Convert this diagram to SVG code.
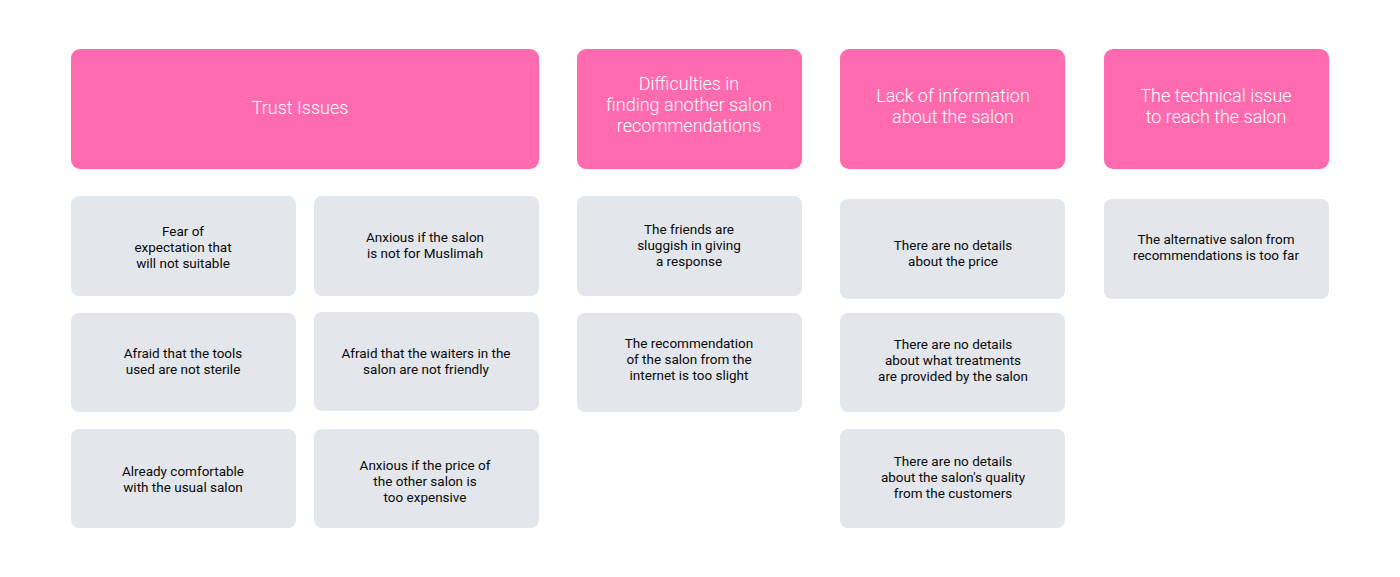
<svg xmlns="http://www.w3.org/2000/svg" width="1400" height="577" viewBox="0 0 1400 577">
<style>
.h{fill:#FF6BAE}
.c{fill:#E3E6EB}
.ht{font-family:Roboto,"Liberation Sans",sans-serif;font-size:18px;fill:#FFFFFF;text-anchor:middle;font-weight:300}
.ct{font-family:Roboto,"Liberation Sans",sans-serif;font-size:13.5px;fill:#0A0A0A;text-anchor:middle}
</style>
<rect width="1400" height="577" fill="#FFFFFF"/>
<g id="h1"><rect class="h" x="71" y="49" width="468" height="120" rx="9"/><text class="ht" x="300" y="114">Trust Issues</text></g>
<g id="h2"><rect class="h" x="577" y="49" width="225" height="120" rx="9"/><text class="ht" x="689" y="90">Difficulties in</text><text class="ht" x="689" y="111">finding another salon</text><text class="ht" x="689" y="132">recommendations</text></g>
<g id="h3"><rect class="h" x="840" y="49" width="225" height="120" rx="9"/><text class="ht" x="953" y="102">Lack of information</text><text class="ht" x="953" y="123">about the salon</text></g>
<g id="h4"><rect class="h" x="1104" y="49" width="225" height="120" rx="9"/><text class="ht" x="1216" y="102">The technical issue</text><text class="ht" x="1216" y="123">to reach the salon</text></g>

<g id="c1"><rect class="c" x="71" y="196" width="225" height="100" rx="8"/><text class="ct" x="183" y="236">Fear of</text><text class="ct" x="183" y="252">expectation that</text><text class="ct" x="183" y="268">will not suitable</text></g>
<g id="c2"><rect class="c" x="314" y="196" width="225" height="100" rx="8"/><text class="ct" x="425" y="242">Anxious if the salon</text><text class="ct" x="425" y="258">is not for Muslimah</text></g>
<g id="c3"><rect class="c" x="71" y="313" width="225" height="99" rx="8"/><text class="ct" x="183" y="358">Afraid that the tools</text><text class="ct" x="183" y="374">used are not sterile</text></g>
<g id="c4"><rect class="c" x="314" y="312" width="225" height="99" rx="8"/><text class="ct" x="426" y="358">Afraid that the waiters in the</text><text class="ct" x="426" y="374">salon are not friendly</text></g>
<g id="c5"><rect class="c" x="71" y="429" width="225" height="99" rx="8"/><text class="ct" x="183" y="476">Already comfortable</text><text class="ct" x="183" y="492">with the usual salon</text></g>
<g id="c6"><rect class="c" x="314" y="429" width="225" height="99" rx="8"/><text class="ct" x="425" y="470">Anxious if the price of</text><text class="ct" x="425" y="486">the other salon is</text><text class="ct" x="425" y="502">too expensive</text></g>

<g id="c7"><rect class="c" x="577" y="196" width="225" height="100" rx="8"/><text class="ct" x="689" y="234">The friends are</text><text class="ct" x="689" y="250">sluggish in giving</text><text class="ct" x="689" y="266">a response</text></g>
<g id="c8"><rect class="c" x="577" y="313" width="225" height="99" rx="8"/><text class="ct" x="689" y="348">The recommendation</text><text class="ct" x="689" y="364">of the salon from the</text><text class="ct" x="689" y="380">internet is too slight</text></g>

<g id="c9"><rect class="c" x="840" y="199" width="225" height="100" rx="8"/><text class="ct" x="953" y="250">There are no details</text><text class="ct" x="953" y="266">about the price</text></g>
<g id="c10"><rect class="c" x="840" y="313" width="225" height="99" rx="8"/><text class="ct" x="953" y="349">There are no details</text><text class="ct" x="953" y="365">about what treatments</text><text class="ct" x="953" y="381">are provided by the salon</text></g>
<g id="c11"><rect class="c" x="840" y="429" width="225" height="99" rx="8"/><text class="ct" x="953" y="466">There are no details</text><text class="ct" x="953" y="482">about the salon's quality</text><text class="ct" x="953" y="498">from the customers</text></g>

<g id="c12"><rect class="c" x="1104" y="199" width="225" height="100" rx="8"/><text class="ct" x="1216" y="244">The alternative salon from</text><text class="ct" x="1216" y="260">recommendations is too far</text></g>
<g id="connectors"></g>
</svg>
